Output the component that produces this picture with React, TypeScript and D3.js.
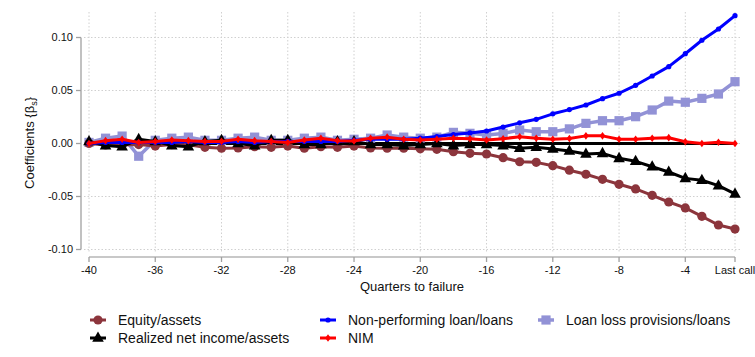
import React from "react";
import * as d3 from "d3";

const quarters = d3.range(-40, 0);
const xTickValues = [-40, -36, -32, -28, -24, -20, -16, -12, -8, -4, -1];
const xTickLabels = ["-40", "-36", "-32", "-28", "-24", "-20", "-16", "-12", "-8", "-4", "Last call"];
const yTickValues = [0.1, 0.05, 0, -0.05, -0.1];
const yTickLabels = ["0.10", "0.05", "0.00", "-0.05", "-0.10"];

const equityAssets = [
  0, -0.0014, -0.0014, -0.001, -0.0024, -0.001, -0.0012, -0.0036, -0.0045, -0.0042,
  -0.003, -0.0036, -0.0024, -0.0045, -0.003, -0.0036, -0.0024, -0.0042, -0.0045, -0.0045,
  -0.005, -0.0055, -0.0077, -0.0093, -0.0099, -0.0134, -0.0172, -0.0178, -0.0209, -0.0252,
  -0.029, -0.0338, -0.0385, -0.0429, -0.0489, -0.0552, -0.0608, -0.0687, -0.0769, -0.0807,
];
const realizedNI = [
  0.002, -0.002, -0.003, 0.004, 0.002, -0.002, -0.003, 0.002, 0.003, 0,
  -0.002, 0.003, 0.003, -0.001, -0.001, 0.002, 0.002, -0.001, -0.001, -0.002,
  -0.001, 0, -0.002, -0.001, -0.001, -0.002, -0.0045, -0.0036, -0.0052, -0.007,
  -0.0099, -0.0093, -0.014, -0.0168, -0.0219, -0.0269, -0.0329, -0.0347, -0.0398, -0.0476,
];
const nonPerforming = [
  0, 0.001, 0.001, 0.001, 0.001, 0.001, 0.002, 0.001, 0.001, 0.002,
  0.001, 0.002, 0.002, 0.002, 0.002, 0.002, 0.003, 0.004, 0.004, 0.004,
  0.005, 0.0065, 0.0085, 0.01, 0.0118, 0.0155, 0.0195, 0.0228, 0.028, 0.032,
  0.0363, 0.0423, 0.0474, 0.0549, 0.0637, 0.0725, 0.0847, 0.0974, 0.108, 0.1206,
];
const nim = [
  0, 0.0027, 0.004, 0.001, 0.002, 0.0033, 0.0027, 0.002, 0.002, 0.004,
  0.0027, 0.002, 0.001, 0.0033, 0.005, 0.0027, 0.0024, 0.005, 0.006, 0.004,
  0.0033, 0.004, 0.0049, 0.0045, 0.0033, 0.0045, 0.0064, 0.0049, 0.004, 0.0047,
  0.0072, 0.0072, 0.004, 0.004, 0.005, 0.0055, 0.0017, 0, 0.0012, 0,
];
const loanLoss = [
  0.001, 0.005, 0.007, -0.012, 0.003, 0.005, 0.006, 0.003, 0.003, 0.005,
  0.006, 0.003, 0.003, 0.005, 0.006, 0.003, 0.004, 0.005, 0.008, 0.006,
  0.005, 0.006, 0.0105, 0.0096, 0.008, 0.0095, 0.0127, 0.0111, 0.0111, 0.0138,
  0.019, 0.0215, 0.0215, 0.0253, 0.0316, 0.04, 0.0389, 0.0426, 0.0467, 0.0583,
];

const W = 755;
const H = 357;
const x = d3.scaleLinear().domain([-40, -1]).range([89, 735]);
const y = d3.scaleLinear().domain([-0.1, 0.1]).range([249.5, 37.5]);

type Marker = "circle" | "dot" | "square" | "triangle" | "diamond";

const seriesList = [
  { key: "llp", name: "Loan loss provisions/loans", values: loanLoss, color: "#9292d6", marker: "square" as Marker, width: 3.5 },
  { key: "eq", name: "Equity/assets", values: equityAssets, color: "#8c353c", marker: "circle" as Marker, width: 3 },
  { key: "ni", name: "Realized net income/assets", values: realizedNI, color: "#000000", marker: "triangle" as Marker, width: 3 },
  { key: "npl", name: "Non-performing loan/loans", values: nonPerforming, color: "#0000ff", marker: "dot" as Marker, width: 3 },
  { key: "nim", name: "NIM", values: nim, color: "#ff0000", marker: "diamond" as Marker, width: 3 },
];

function markerShape(m: Marker, cx: number, cy: number, color: string, k: string | number) {
  if (m === "circle") return <circle key={k} cx={cx} cy={cy} r={4.6} fill={color} />;
  if (m === "dot") return <circle key={k} cx={cx} cy={cy} r={2.6} fill={color} />;
  if (m === "square") return <rect key={k} x={cx - 4.6} y={cy - 4.6} width={9.2} height={9.2} fill={color} />;
  if (m === "triangle")
    return <path key={k} d={`M${cx},${cy - 6.5} L${cx + 5.8},${cy + 3.8} L${cx - 5.8},${cy + 3.8} Z`} fill={color} />;
  return <path key={k} d={`M${cx},${cy - 3.8} L${cx + 2.8},${cy} L${cx},${cy + 3.8} L${cx - 2.8},${cy} Z`} fill={color} />;
}

const legendItems = [
  { s: "eq", lx: 98, ly: 320 },
  { s: "ni", lx: 98, ly: 338 },
  { s: "npl", lx: 328, ly: 320 },
  { s: "nim", lx: 328, ly: 338 },
  { s: "llp", lx: 546, ly: 320 },
];

export default function App() {
  const line = d3
    .line<number>()
    .x((_, i) => x(quarters[i]))
    .y((d) => y(d));
  const font = "'Liberation Sans', Arial, sans-serif";
  return (
    <svg width={W} height={H} style={{ position: "absolute", left: 0, top: 0, background: "#fff" }}>
      <rect width={W} height={H} fill="#fff" />
      {/* grid */}
      {xTickValues.map((v) => (
        <line key={"gx" + v} x1={x(v)} x2={x(v)} y1={12} y2={252} stroke="#d0d0d0" strokeWidth={1} strokeDasharray="1.5,2" />
      ))}
      {yTickValues.map((v) => (
        <line key={"gy" + v} x1={84} x2={741} y1={y(v)} y2={y(v)} stroke="#d0d0d0" strokeWidth={1} strokeDasharray="1.5,2" />
      ))}
      {/* y axis */}
      <line x1={81} x2={81} y1={y(0.1)} y2={y(-0.1)} stroke="#a0a0a0" strokeWidth={1.3} />
      {yTickValues.map((v, i) => (
        <g key={"yt" + v}>
          <line x1={76} x2={81} y1={y(v)} y2={y(v)} stroke="#a0a0a0" strokeWidth={1.3} />
          <text x={73} y={y(v)} dy="0.35em" textAnchor="end" fontSize={11} fontFamily={font} fill="#111">
            {yTickLabels[i]}
          </text>
        </g>
      ))}
      <text
        transform={`translate(34,143) rotate(-90)`}
        textAnchor="middle"
        fontSize={13}
        fontFamily={font}
        fill="#111"
      >
        Coefficients {"{β"}
        <tspan fontSize={9} dy={3}>s</tspan>
        <tspan dy={-3}>{"}"}</tspan>
      </text>
      {/* x axis */}
      <line x1={x(-40)} x2={x(-1)} y1={257} y2={257} stroke="#c8c8c8" strokeWidth={2.2} />
      {xTickValues.map((v, i) => (
        <g key={"xt" + v}>
          <line x1={x(v)} x2={x(v)} y1={257} y2={262} stroke="#a0a0a0" strokeWidth={1.3} />
          <text x={x(v)} y={274} textAnchor="middle" fontSize={11} fontFamily={font} fill="#111">
            {xTickLabels[i]}
          </text>
        </g>
      ))}
      <text x={412} y={291} textAnchor="middle" fontSize={13} fontFamily={font} fill="#111">
        Quarters to failure
      </text>
      {/* zero reference line */}
      <line x1={x(-40)} x2={x(-1)} y1={y(0)} y2={y(0)} stroke="#000" strokeWidth={3} />
      {/* series */}
      {seriesList.map((s) => (
        <g key={s.key}>
          <path d={line(s.values) || ""} fill="none" stroke={s.color} strokeWidth={s.width} strokeLinejoin="round" />
          {s.values.map((v, i) => markerShape(s.marker, x(quarters[i]), y(v), s.color, i))}
        </g>
      ))}
      {/* legend */}
      {legendItems.map((li) => {
        const s = seriesList.find((d) => d.key === li.s)!;
        return (
          <g key={"lg" + li.s}>
            <line x1={li.lx - 8} x2={li.lx + 8} y1={li.ly} y2={li.ly} stroke={s.color} strokeWidth={s.width} />
            {markerShape(s.marker, li.lx, li.ly, s.color, "m")}
            <text x={li.lx + 20} y={li.ly} dy="0.35em" fontSize={14} fontFamily={font} fill="#111">
              {s.name}
            </text>
          </g>
        );
      })}
    </svg>
  );
}
